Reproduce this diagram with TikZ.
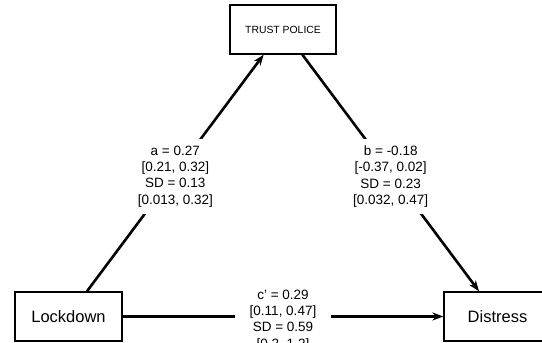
\documentclass[tikz,border=0pt]{standalone}
\usepackage{fontspec}
\setmainfont{Liberation Sans}
\usetikzlibrary{calc,arrows.meta}
\begin{document}
\begin{tikzpicture}[x=1pt,y=-1pt,
  box/.style={draw,line width=1.2pt,minimum width=107pt,minimum height=49pt,inner sep=0pt,fill=white},
  conn/.style={line width=2.6pt,-{Stealth[length=11pt,width=8pt]}},
  lab/.style={fill=white,align=center,inner xsep=2pt,inner ysep=6.5pt,font=\fontsize{13.5}{16.3}\selectfont}]
\useasboundingbox (0,0) rectangle (542,343);
\node[box,minimum width=106pt,font=\fontsize{10.4}{12}\selectfont] (tp) at (283,29.5) {TRUST POLICE};
\node[box,font=\fontsize{16.5}{19}\selectfont] (ld) at (68.5,316.5) {Lockdown};
\node[box,font=\fontsize{16.5}{19}\selectfont] (ds) at (497.5,316.5) {Distress};
\coordinate (a0) at ($(ld.north west)!0.67!(ld.north east)$);
\coordinate (a1) at ($(tp.south west)!0.32!(tp.south east)$);
\coordinate (b0) at ($(tp.south west)!0.68!(tp.south east)$);
\coordinate (b1) at ($(ds.north west)!0.33!(ds.north east)$);
\draw[conn] (a0) -- node[lab,yshift=-3.5pt] {a = 0.27\\{[}0.21, 0.32{]}\\SD = 0.13\\{[}0.013, 0.32{]}} (a1);
\draw[conn] (b0) -- node[lab,yshift=-3.5pt] {b = -0.18\\{[}-0.37, 0.02{]}\\SD = 0.23\\{[}0.032, 0.47{]}} (b1);
\draw[conn] (ld.east) -- node[lab,inner xsep=15pt,inner ysep=1pt,yshift=-4pt] {c' = 0.29\\{[}0.11, 0.47{]}\\SD = 0.59\\{[}0.2, 1.2{]}} (ds.west);
\end{tikzpicture}
\end{document}
